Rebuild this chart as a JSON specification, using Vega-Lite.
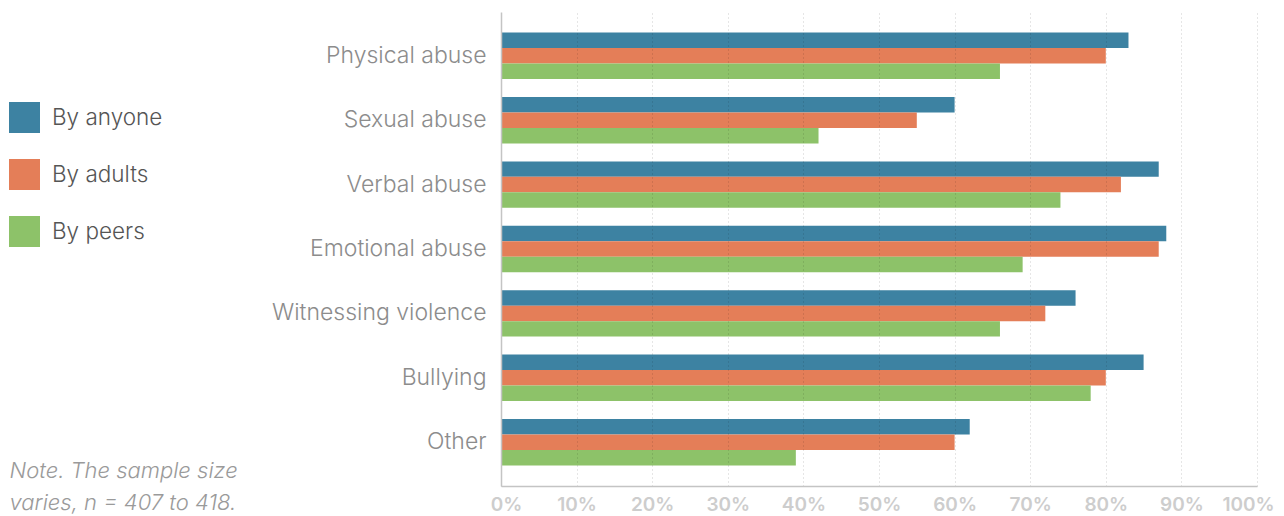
{
  "$schema": "https://vega.github.io/schema/vega-lite/v6.json",
  "autosize": {"type": "none"},
  "padding": {"left": 501, "top": 12, "right": 27, "bottom": 30},
  "width": 756,
  "height": 474,
  "background": "white",
  "config": {
    "view": {"stroke": null},
    "font": "Inter"
  },
  "data": {
    "values": [
      {"category": "Physical abuse", "series": "By anyone", "value": 83},
      {"category": "Physical abuse", "series": "By adults", "value": 80},
      {"category": "Physical abuse", "series": "By peers", "value": 66},
      {"category": "Sexual abuse", "series": "By anyone", "value": 60},
      {"category": "Sexual abuse", "series": "By adults", "value": 55},
      {"category": "Sexual abuse", "series": "By peers", "value": 42},
      {"category": "Verbal abuse", "series": "By anyone", "value": 87},
      {"category": "Verbal abuse", "series": "By adults", "value": 82},
      {"category": "Verbal abuse", "series": "By peers", "value": 74},
      {"category": "Emotional abuse", "series": "By anyone", "value": 88},
      {"category": "Emotional abuse", "series": "By adults", "value": 87},
      {"category": "Emotional abuse", "series": "By peers", "value": 69},
      {"category": "Witnessing violence", "series": "By anyone", "value": 76},
      {"category": "Witnessing violence", "series": "By adults", "value": 72},
      {"category": "Witnessing violence", "series": "By peers", "value": 66},
      {"category": "Bullying", "series": "By anyone", "value": 85},
      {"category": "Bullying", "series": "By adults", "value": 80},
      {"category": "Bullying", "series": "By peers", "value": 78},
      {"category": "Other", "series": "By anyone", "value": 62},
      {"category": "Other", "series": "By adults", "value": 60},
      {"category": "Other", "series": "By peers", "value": 39}
    ]
  },
  "mark": {"type": "bar"},
  "encoding": {
    "y": {
      "field": "category",
      "type": "nominal",
      "sort": ["Physical abuse", "Sexual abuse", "Verbal abuse", "Emotional abuse", "Witnessing violence", "Bullying", "Other"],
      "scale": {"paddingInner": 0.28, "paddingOuter": 0.32},
      "axis": {
        "title": null,
        "ticks": false,
        "zindex": 1,
        "domainColor": "#c4c4c4",
        "domainWidth": 1.5,
        "labelFontSize": 23,
        "labelFontWeight": 300,
        "labelColor": "#8c8c8c",
        "labelPadding": 15,
        "labelLimit": 300
      }
    },
    "yOffset": {
      "field": "series",
      "sort": ["By anyone", "By adults", "By peers"],
      "scale": {"paddingInner": 0, "paddingOuter": 0}
    },
    "x": {
      "field": "value",
      "type": "quantitative",
      "scale": {"domain": [0, 100], "nice": false},
      "axis": {
        "values": [0, 10, 20, 30, 40, 50, 60, 70, 80, 90, 100],
        "labelExpr": "datum.value + '%'",
        "labelFlush": false,
        "labelOffset": {
          "condition": [
            {"test": "datum.value == 0", "value": 5},
            {"test": "datum.value == 100", "value": -9}
          ],
          "value": 0
        },
        "ticks": false,
        "zindex": 1,
        "domainColor": "#c4c4c4",
        "domainWidth": 1.5,
        "grid": true,
        "gridColor": "#000000",
        "gridOpacity": 0.2,
        "gridDash": [1, 3],
        "gridWidth": 1,
        "labelFontSize": 19,
        "labelFontWeight": 600,
        "labelColor": "#cdcdcd",
        "labelPadding": 9,
        "title": ["Note. The sample size", "varies, n = 407 to 418."],
        "titleX": -492,
        "titleY": -26,
        "titleAlign": "left",
        "titleBaseline": "top",
        "titleAngle": 0,
        "titleFontSize": 22,
        "titleFontWeight": 300,
        "titleFontStyle": "italic",
        "titleColor": "#9a9a9a",
        "titleLineHeight": 32
      }
    },
    "color": {
      "field": "series",
      "type": "nominal",
      "sort": ["By anyone", "By adults", "By peers"],
      "scale": {"range": ["#3d82a2", "#e47e58", "#8dc269"]},
      "legend": {
        "title": null,
        "orient": "none",
        "legendX": -492,
        "legendY": 90,
        "padding": 0,
        "symbolType": "square",
        "symbolSize": 961,
        "symbolStrokeWidth": 0,
        "symbolOpacity": 1,
        "labelFontSize": 22.5,
        "labelFontWeight": 300,
        "labelColor": "#555555",
        "labelOffset": 12,
        "rowPadding": 26
      }
    }
  }
}
